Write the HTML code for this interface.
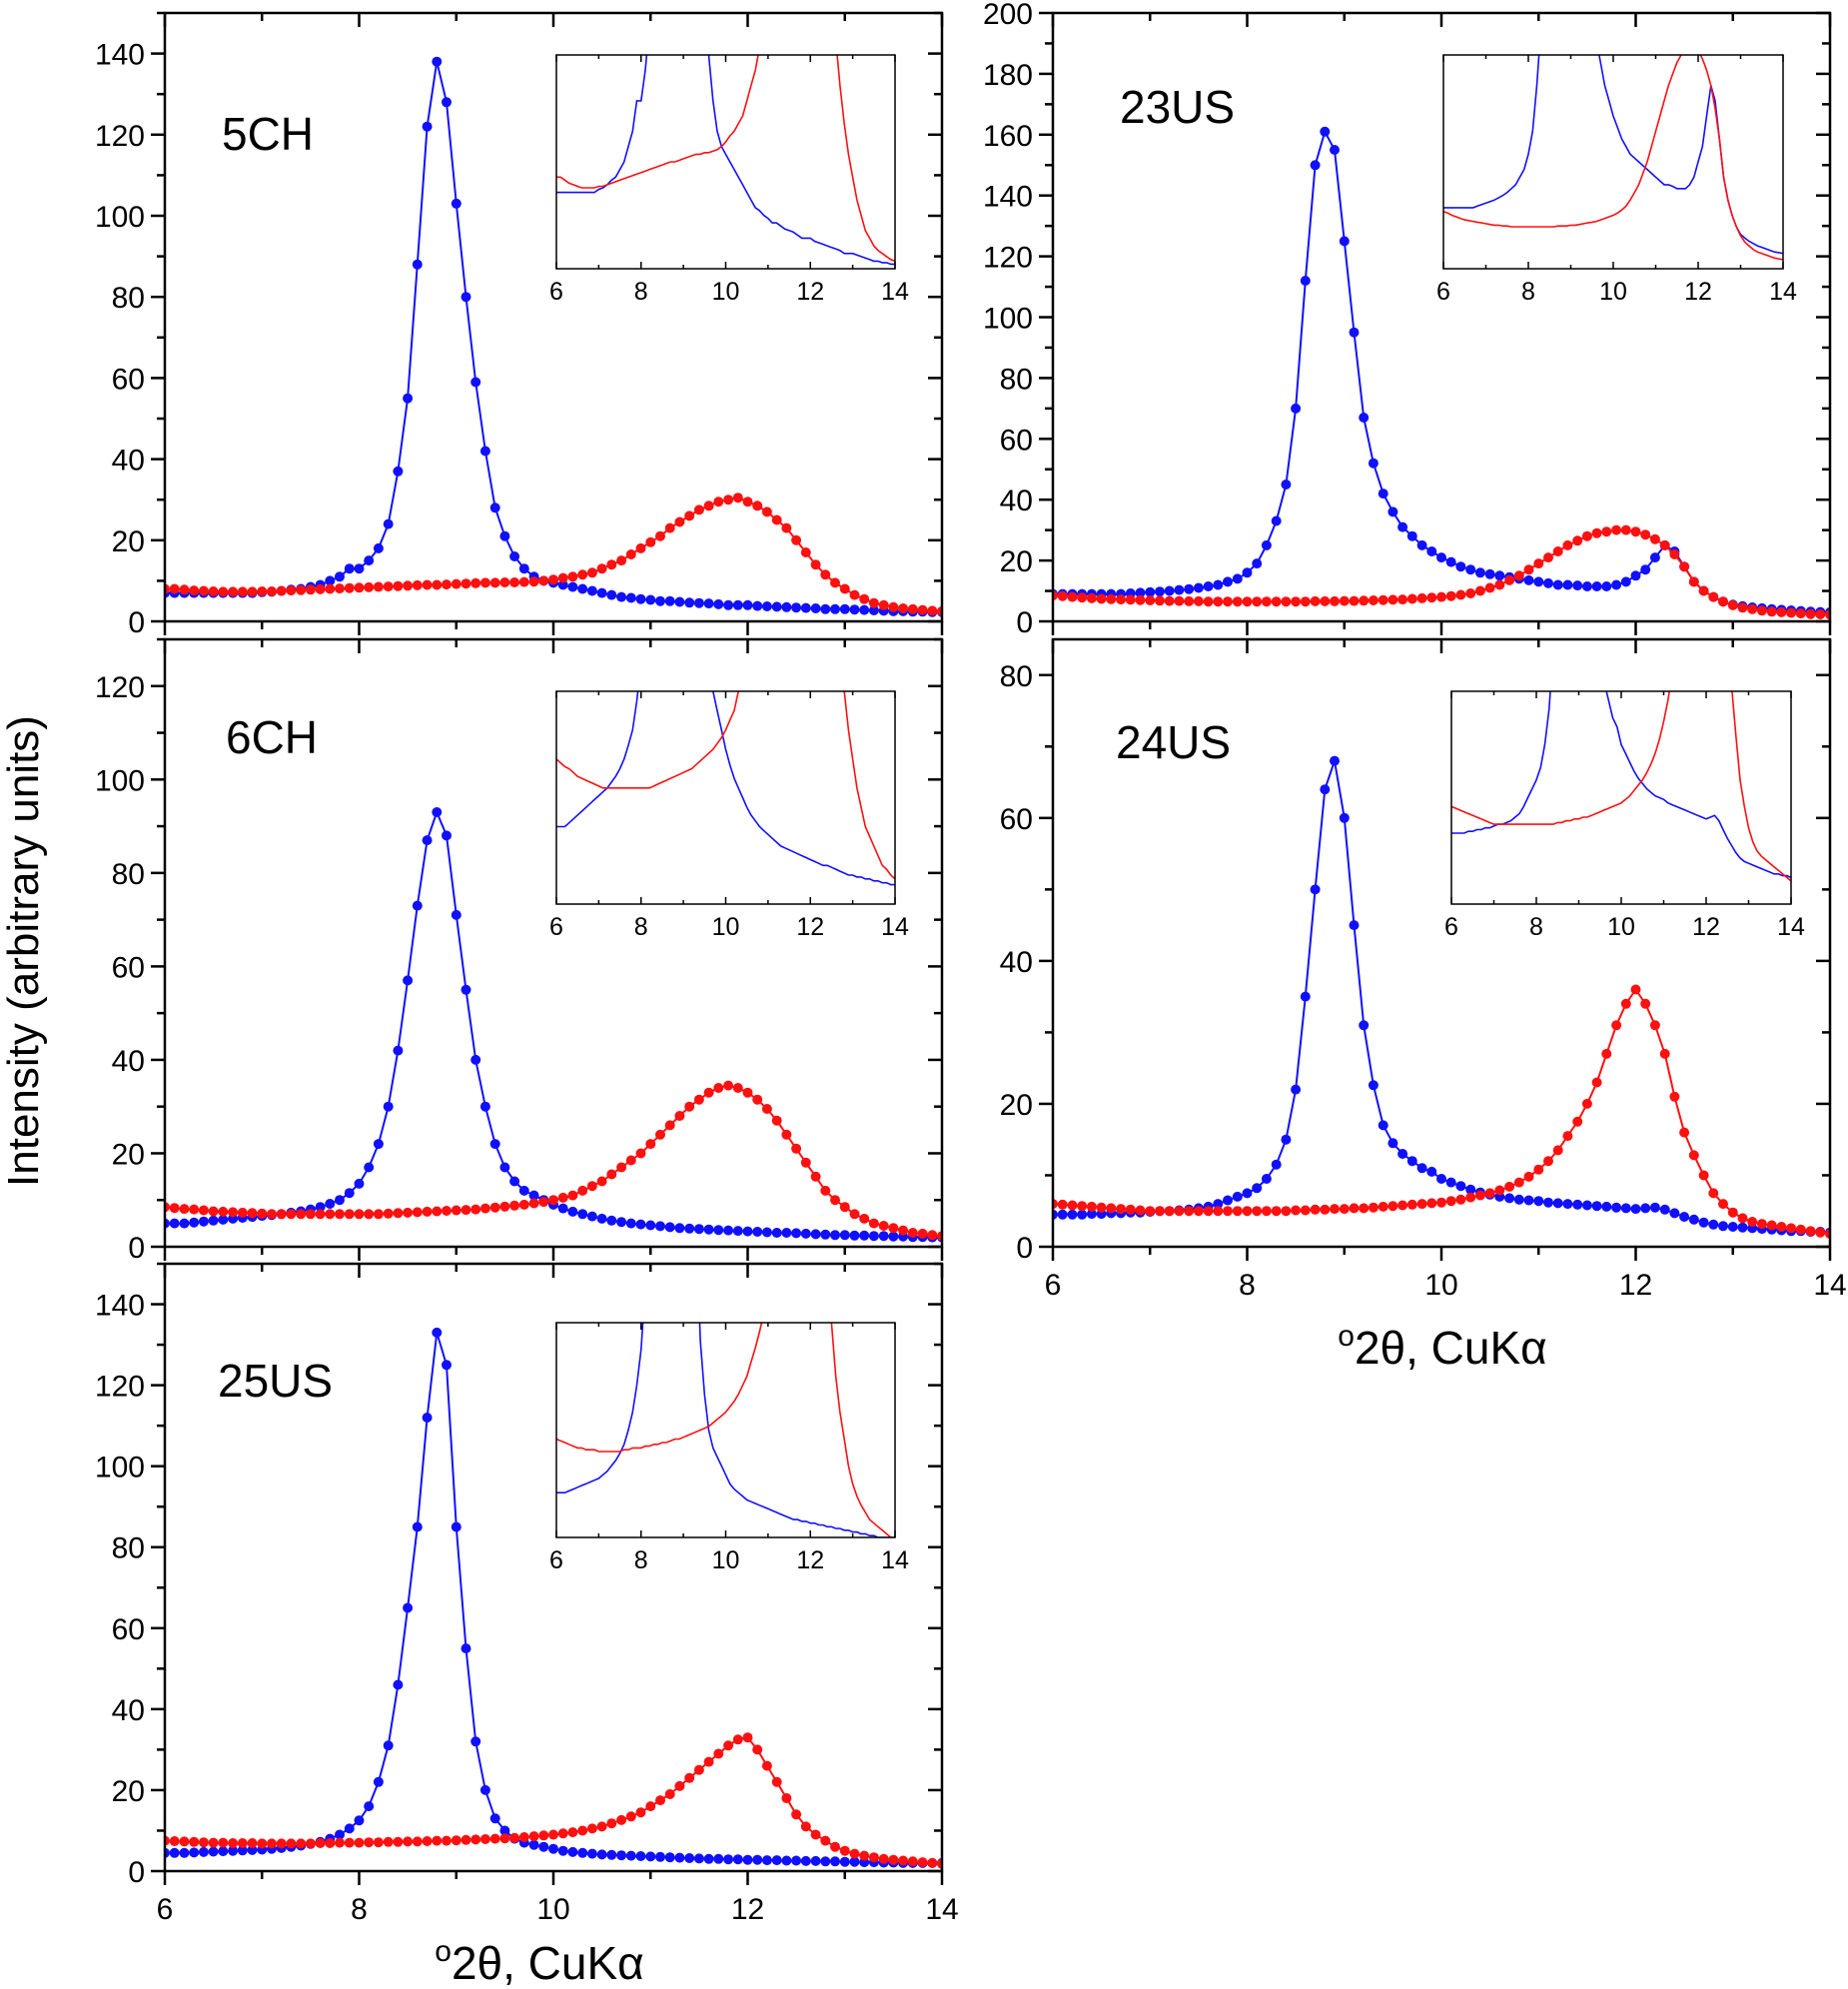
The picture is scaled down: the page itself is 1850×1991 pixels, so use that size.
<!DOCTYPE html>
<html><head><meta charset="utf-8"><style>
html,body{margin:0;padding:0;background:#fff;}
svg{display:block;font-family:"Liberation Sans",Arial,sans-serif;}
</style></head><body>
<svg id="fig" width="1850" height="1991" viewBox="0 0 1850 1991" xmlns="http://www.w3.org/2000/svg">
<text x="0" y="0" transform="translate(38,952) rotate(-90)" text-anchor="middle" font-size="44">Intensity (arbitrary units)</text>
<text x="1444" y="1365" text-anchor="middle" font-size="46"><tspan font-size="30" dy="-18">o</tspan><tspan dy="18">2θ, CuKα</tspan></text>
<text x="540" y="1981" text-anchor="middle" font-size="46"><tspan font-size="30" dy="-18">o</tspan><tspan dy="18">2θ, CuKα</tspan></text>
</svg>
<script>
// shared 2-theta grid, 6.0 .. 14.0 step 0.1
const twoTheta = Array.from({length:81}, (_, i) => +(6 + i*0.1).toFixed(1));
const xTicks = [6, 8, 10, 12, 14];

const blue5CH = [7,7,7,7,7,7,7,7,7,7, 7.2,7.3,7.5,7.8,8,8.5,9,10,11,13, 13,15,18,24,37,55,88,122,138,128, 103,80,59,42,28,21,16,13,11,10, 9.5,9,8.5,8,7.5,7,6.5,6,5.8,5.5, 5.3,5,5,4.8,4.6,4.5,4.4,4.2,4,4, 4,3.8,3.7,3.6,3.5,3.4,3.3,3.2,3,3, 3,2.9,2.8,2.7,2.6,2.5,2.5,2.4,2.4,2.3, 2.3];
const red5CH = [8,8,7.8,7.6,7.5,7.4,7.3,7.3,7.3,7.3, 7.4,7.4,7.5,7.6,7.7,7.8,7.9,8,8.1,8.2, 8.3,8.4,8.5,8.6,8.7,8.8,8.9,9,9,9.1, 9.2,9.3,9.4,9.5,9.5,9.6,9.6,9.7,9.8,10, 10.3,10.7,11,11.5,12,13,14,15,16.5,18, 19.5,21,23,24.5,26,27.5,28.5,29.5,30,30.5, 29.5,28.5,27,25,23,20,17,14,11.5,9.5, 8,6.5,5.5,4.5,4,3.5,3.2,3,2.8,2.6, 2.5];
const blue6CH = [5,5,5,5.2,5.4,5.6,5.8,6,6.2,6.4, 6.6,6.8,7,7.3,7.6,8,8.5,9.2,10,11.5, 13.5,17,22,30,42,57,73,87,93,88, 71,55,40,30,22,17,14,12,11,10, 9,8.2,7.5,7,6.5,6,5.6,5.3,5,4.8, 4.6,4.4,4.2,4,3.9,3.8,3.7,3.6,3.5,3.4, 3.3,3.2,3.1,3,3,2.9,2.8,2.7,2.6,2.5, 2.5,2.4,2.4,2.3,2.3,2.2,2.2,2.1,2.1,2, 2];
const red6CH = [8.5,8.3,8.1,8,7.8,7.6,7.5,7.4,7.3,7.2, 7.1,7,7,7,7,7,7,7,7,7, 7,7,7,7.1,7.2,7.3,7.4,7.5,7.6,7.7, 7.8,7.9,8,8.2,8.4,8.6,8.8,9,9.3,9.6, 10,10.5,11,12,13,14,15.5,17,18.5,20, 22,24,26,28,30,31.5,33,34,34.5,34, 33,31.5,29.5,27,24,21,18,15,12,10, 8.5,7,6,5,4.5,4,3.5,3,2.8,2.5, 2.3];
const blue25US = [4.5,4.5,4.5,4.6,4.7,4.8,4.9,5,5.1,5.2, 5.3,5.5,5.7,6,6.3,6.7,7.2,8,9,10.5, 12.5,16,22,31,46,65,85,112,133,125, 85,55,32,20,13,10,8,7,6.5,6, 5.5,5,4.7,4.5,4.3,4.1,4,3.9,3.8,3.7, 3.6,3.5,3.4,3.3,3.2,3.1,3,3,2.9,2.9, 2.8,2.8,2.7,2.7,2.6,2.6,2.5,2.5,2.4,2.4, 2.3,2.3,2.2,2.2,2.1,2.1,2,2,2,2, 2];
const red25US = [7.5,7.4,7.3,7.2,7.1,7,7,6.9,6.9,6.9, 6.8,6.8,6.8,6.8,6.8,6.8,6.9,6.9,7,7, 7,7.1,7.1,7.2,7.2,7.3,7.3,7.4,7.5,7.5, 7.6,7.7,7.8,7.9,8,8.1,8.2,8.4,8.6,8.8, 9,9.3,9.6,10,10.5,11,11.8,12.6,13.5,14.5, 16,17.5,19,21,23,25,27,29,31,32.5, 33,30,26,22,18,14,11,9,7.5,6, 5,4.3,3.8,3.4,3,2.8,2.6,2.4,2.2,2, 1.8];
const blue23US = [9,9,9,9,9,9,9,9,9.2,9.4, 9.6,9.8,10,10.3,10.6,11,11.5,12,13,14, 16,19,25,33,45,70,112,150,161,155, 125,95,67,52,42,36,31,28,25,23, 21,19.5,18,17,16,15.5,15,14.5,14,13.5, 13,12.5,12,12,11.8,11.5,11.5,11.5,12,13, 15,17,21,25,23,18,13,10,8,6.5, 5.5,5,4.6,4.3,4,3.8,3.6,3.4,3.2,3.1, 3];
const red23US = [8.5,8.3,8,7.8,7.6,7.4,7.3,7.2,7.1,7, 6.9,6.8,6.7,6.7,6.6,6.6,6.5,6.5,6.5,6.5, 6.5,6.5,6.5,6.5,6.5,6.5,6.5,6.6,6.6,6.6, 6.7,6.7,6.8,6.9,7,7.1,7.2,7.4,7.6,7.8, 8,8.3,8.7,9.2,10,11,12,13.5,15,17, 19,21,23,25,26.5,28,29,29.5,30,30, 29.5,28.5,27,25,22,18,13,10,8,6.5, 5.3,4.5,4,3.5,3.2,3,2.8,2.6,2.4,2.3, 2.2];
const blue24US = [4.5,4.5,4.5,4.5,4.6,4.6,4.7,4.7,4.8,4.8, 4.9,5,5,5.1,5.2,5.4,5.6,6,6.5,7, 7.5,8.2,9.5,11.5,15,22,35,50,64,68, 60,45,31,22.6,17,14.5,13,12,11,10.5, 9.5,9,8.5,8,7.6,7.3,7,6.8,6.6,6.5, 6.4,6.2,6.1,6,5.9,5.8,5.7,5.6,5.5,5.4, 5.3,5.4,5.5,5.2,4.7,4.2,3.8,3.4,3.1,2.9, 2.8,2.7,2.6,2.5,2.4,2.3,2.2,2.2,2.1,2.1, 2];
const red24US = [6,5.9,5.8,5.7,5.6,5.5,5.4,5.3,5.2,5.1, 5,5,5,5,5,5,5,5,5,5, 5,5,5,5,5,5.1,5.1,5.2,5.2,5.3, 5.3,5.4,5.4,5.5,5.6,5.7,5.8,5.9,6,6.1, 6.2,6.4,6.6,6.9,7.2,7.5,7.9,8.4,9,9.8, 10.8,12,13.5,15.5,17.5,20,23,27,31,34, 36,34,31,27,21,16,12.8,10,7.5,6, 4.8,4,3.5,3.2,3,2.8,2.6,2.4,2.2,2, 1.8];

const panelNames = ["5CH","6CH","25US","23US","24US"];
const yMaxes = [150,130,150,200,85];
const yLabelTicks = [[0,20,40,60,80,100,120,140],[0,20,40,60,80,100,120],[0,20,40,60,80,100,120,140],[0,20,40,60,80,100,120,140,160,180,200],[0,20,40,60,80]];
const insetRanges = [[2,16],[1,12],[2,14],[1,29],[0.5,12.5]];

const layout = [
 {x0:165,x1:943,y0:13,y1:622, inset:[557,896,55,269], lab:[222,150], xl:false},
 {x0:165,x1:943,y0:640,y1:1248, inset:[557,896,692,905], lab:[226,754], xl:false},
 {x0:165,x1:943,y0:1265,y1:1873, inset:[557,896,1324,1539], lab:[218,1398], xl:true},
 {x0:1054,x1:1832,y0:13,y1:622, inset:[1445,1785,55,269], lab:[1121,123], xl:false},
 {x0:1054,x1:1832,y0:640,y1:1248, inset:[1453,1793,692,905], lab:[1117,759], xl:true}
];
const series = [[blue5CH,red5CH],[blue6CH,red6CH],[blue25US,red25US],[blue23US,red23US],[blue24US,red24US]];

const NS = "http://www.w3.org/2000/svg";
const svg = document.getElementById("fig");
function mk(tag, attrs, parent){ const e=document.createElementNS(NS,tag); for(const k in attrs) e.setAttribute(k,attrs[k]); (parent||svg).appendChild(e); return e; }

layout.forEach((L, p) => {
  const g = mk("g", {});
  
  
  const sx = v => L.x0 + (v-6)/8*(L.x1-L.x0);
  const sy = v => L.y1 - v/yMaxes[p]*(L.y1-L.y0);
  const cid = "clip"+p;
  const cp = mk("clipPath",{id:cid},g); mk("rect",{x:L.x0,y:L.y0,width:L.x1-L.x0,height:L.y1-L.y0},cp);
  const cols = ["#1010ff","#ff1010"];
  series[p].forEach((vals, s) => {
    const sg = mk("g",{"clip-path":"url(#"+cid+")"},g);
    
    
    const pts = vals.map((v,i)=>sx(twoTheta[i]).toFixed(1)+","+sy(v).toFixed(1)).join(" ");
    mk("polyline",{points:pts,fill:"none",stroke:cols[s],"stroke-width":2,"stroke-linejoin":"round"},sg);
    vals.forEach((v,i)=>{
      const c = mk("circle",{cx:sx(twoTheta[i]).toFixed(1),cy:sy(v).toFixed(1),r:5,fill:cols[s]},sg);
      
      
    });
  });
  const fr = mk("rect",{x:L.x0,y:L.y0,width:L.x1-L.x0,height:L.y1-L.y0,fill:"none",stroke:"#000","stroke-width":2.5},g);
  
  
  for(let v=6; v<=14; v++){
    const maj = v%2===0, len = maj?14:8, X=sx(v);
    mk("line",{x1:X,x2:X,y1:L.y1,y2:L.y1+len,stroke:"#000","stroke-width":2.5},g);
    mk("line",{x1:X,x2:X,y1:L.y0,y2:L.y0+len,stroke:"#000","stroke-width":2.5},g);
  }
  if(L.xl) xTicks.forEach(v=>{
    const t = mk("text",{x:sx(v),y:L.y1+48,"text-anchor":"middle","font-size":30},g); t.textContent=v;
    
    
  });
  for(let v=0; v<=yMaxes[p]; v+=10){
    const maj = v%20===0, len = maj?14:8, Y=sy(v);
    mk("line",{x1:L.x0-len,x2:L.x0,y1:Y,y2:Y,stroke:"#000","stroke-width":2.5},g);
    mk("line",{x1:L.x1-len,x2:L.x1,y1:Y,y2:Y,stroke:"#000","stroke-width":2.5},g);
  }
  yLabelTicks[p].forEach(v=>{
    const t = mk("text",{x:L.x0-20,y:sy(v)+11,"text-anchor":"end","font-size":30},g); t.textContent=v;
    
    
  });
  const lb = mk("text",{x:L.lab[0],y:L.lab[1],"font-size":46},g); lb.textContent=panelNames[p];
  
  
  const [ix0,ix1,iy0,iy1] = L.inset, [rmin,rmax] = insetRanges[p];
  const ig = mk("g",{},g);
  
  
  const isx = v => ix0 + (v-6)/8*(ix1-ix0);
  const isy = v => iy1 - (v-rmin)/(rmax-rmin)*(iy1-iy0);
  mk("rect",{x:ix0,y:iy0,width:ix1-ix0,height:iy1-iy0,fill:"#fff"},ig);
  const icp = mk("clipPath",{id:"iclip"+p},ig); mk("rect",{x:ix0,y:iy0,width:ix1-ix0,height:iy1-iy0},icp);
  series[p].forEach((vals,s)=>{
    const pts = vals.map((v,i)=>isx(twoTheta[i]).toFixed(1)+","+isy(v).toFixed(1)).join(" ");
    const pl = mk("polyline",{points:pts,fill:"none",stroke:cols[s],"stroke-width":1.6,"clip-path":"url(#iclip"+p+")"},ig);
    
    
  });
  mk("rect",{x:ix0,y:iy0,width:ix1-ix0,height:iy1-iy0,fill:"none",stroke:"#000","stroke-width":1.5},ig);
  for(let v=6; v<=14; v++){
    const len = v%2===0?7:4, X=isx(v);
    mk("line",{x1:X,x2:X,y1:iy1,y2:iy1-len,stroke:"#000","stroke-width":1.5},ig);
    mk("line",{x1:X,x2:X,y1:iy0,y2:iy0+len,stroke:"#000","stroke-width":1.5},ig);
  }
  xTicks.forEach(v=>{
    const t = mk("text",{x:isx(v),y:iy1+31,"text-anchor":"middle","font-size":25},ig); t.textContent=v;
    
    
  });
});
</script>
</body></html>
